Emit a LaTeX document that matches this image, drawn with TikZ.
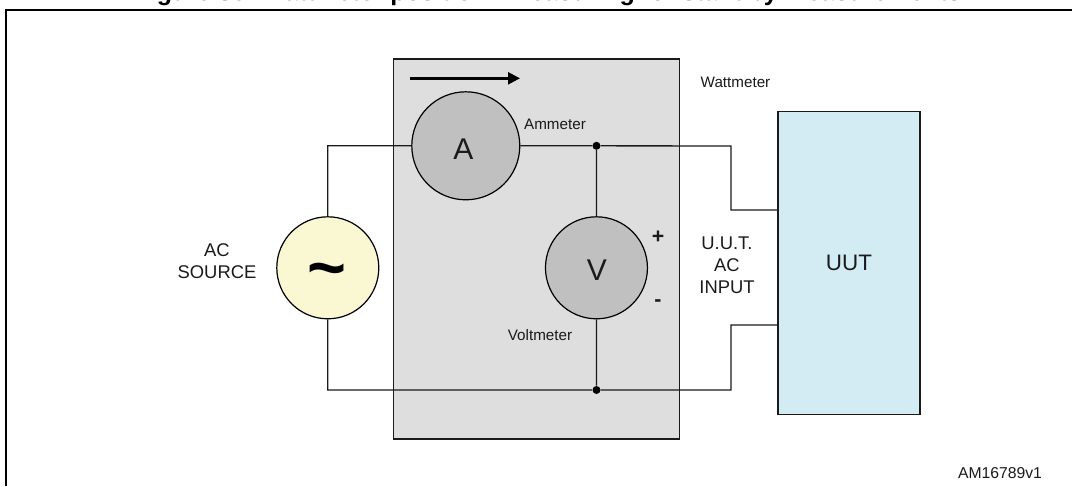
\documentclass[tikz,border=0pt]{standalone}
\usepackage{fontspec}
\setmainfont{Liberation Sans}
\usetikzlibrary{positioning, arrows.meta}
\definecolor{boxgrey}{HTML}{DEDEDE}
\definecolor{metergrey}{HTML}{C0C0C0}
\definecolor{srcyellow}{HTML}{FAF8D2}
\definecolor{uutblue}{HTML}{D3ECF3}
\definecolor{wiregrey}{HTML}{1A1A1A}
\tikzset{
  meter/.style={circle, draw=black, line width=0.9pt, fill=metergrey, minimum size=76.5pt, inner sep=0pt},
  block/.style={rectangle, draw=wiregrey, line width=1pt, inner sep=0pt},
  wire/.style={draw=wiregrey, line width=1pt},
  dotnode/.style={circle, fill=black, minimum size=6pt, inner sep=0pt},
  tiny label/.style={font=\fontsize{11.4}{13}\selectfont, text=wiregrey, inner sep=0pt},
  big label/.style={font=\fontsize{13.8}{16.4}\selectfont, text=wiregrey, align=center, inner sep=0pt},
  meter label/.style={font=\fontsize{22.5}{24}\selectfont, text=wiregrey, inner sep=0pt}
}
\begin{document}
\begin{tikzpicture}
	[x=0.75pt, y=-0.75pt, on grid]
   \useasboundingbox (0,0) rectangle (1072,486);
   \begin{scope}
     \clip (0,0) rectangle (1072,486);
     \node[font=\fontsize{18.75}{20}\bfseries\selectfont, anchor=base, inner sep=0pt] (title) at (548,0.6) {Figure 36. Wattmeter position - Measuring for standby measurements};
   \end{scope}
   \coordinate (fa) at (5.8,486);
   \coordinate (fb) at (5.8,10);
   \coordinate (fc) at (1072,10);
   \draw[line width=1.5pt] (fa) -- (fb) -- (fc);

   \node[block, fill=boxgrey, minimum width=214.7pt, minimum height=285pt] (wattbox) at (536.6,249) {};
   \node[block, fill=uutblue, minimum width=106.5pt, minimum height=227pt, font=\fontsize{16.8}{18}\selectfont, text=wiregrey] (uut) at (849,263) {UUT};

   \node[meter, minimum size=81pt] (ammeter) at (465.8,145.8) {};
   \node[meter] (voltmeter) [below right=91.5pt and 98pt of ammeter] {};
   \node[meter, fill=srcyellow] (source) [left=201.5pt of voltmeter] {};
   \node[meter label] (ltra) at (463.5,149) {A};
   \node[meter label] (ltrv) at (597,270) {V};
   \node[font=\fontsize{50}{52}\bfseries\selectfont, inner sep=0pt] (tilde) at (327,277) {\char`\~};

   \node[dotnode] (jtop) at (voltmeter |- ammeter) {};
   \node[dotnode] (jbot) at (596.5,390) {};
   \coordinate (topa) at (731,146);
   \coordinate (topb) at (731,210);
   \coordinate (topc) at (uut.west |- topb);
   \coordinate (bota) at (731,390);
   \coordinate (botb) at (731,325);
   \coordinate (botc) at (uut.west |- botb);

   \path[wire]
    (source.north) |- (ammeter.west)
    (ammeter.east) -- (jtop)
    (jtop) -- (voltmeter.north)
    (voltmeter.south) -- (jbot)
    (source.south) |- (jbot)
    (jtop) -- (topa) -- (topb) -- (topc)
    (jbot) -- (bota) -- (botb) -- (botc);

   \coordinate (arra) at (410,78.3);
   \coordinate (arrb) at (520,78.3);
   \draw[line width=1.8pt, -{Triangle[length=9pt, width=9pt]}] (arra) -- (arrb);

   \node[tiny label] (ammlbl) at (555,124) {Ammeter};
   \node[tiny label] (wattlbl) at (735.5,82) {Wattmeter};
   \node[tiny label] (voltlbl) at (540,335) {Voltmeter};
   \node[big label] (srclbl) at (217,261) {AC\\SOURCE};
   \node[big label] (inlbl) at (727,265) {U.U.T.\\AC\\INPUT};
   \node[big label, font=\fontsize{16}{18}\bfseries\selectfont] (plus) at (658,237) {+};
   \node[big label, font=\fontsize{16}{18}\bfseries\selectfont] (minus) at (658,303) {-};
   \node[tiny label, font=\fontsize{11.8}{13}\selectfont] (code) at (1000,473) {AM16789v1};
\end{tikzpicture}
\end{document}
